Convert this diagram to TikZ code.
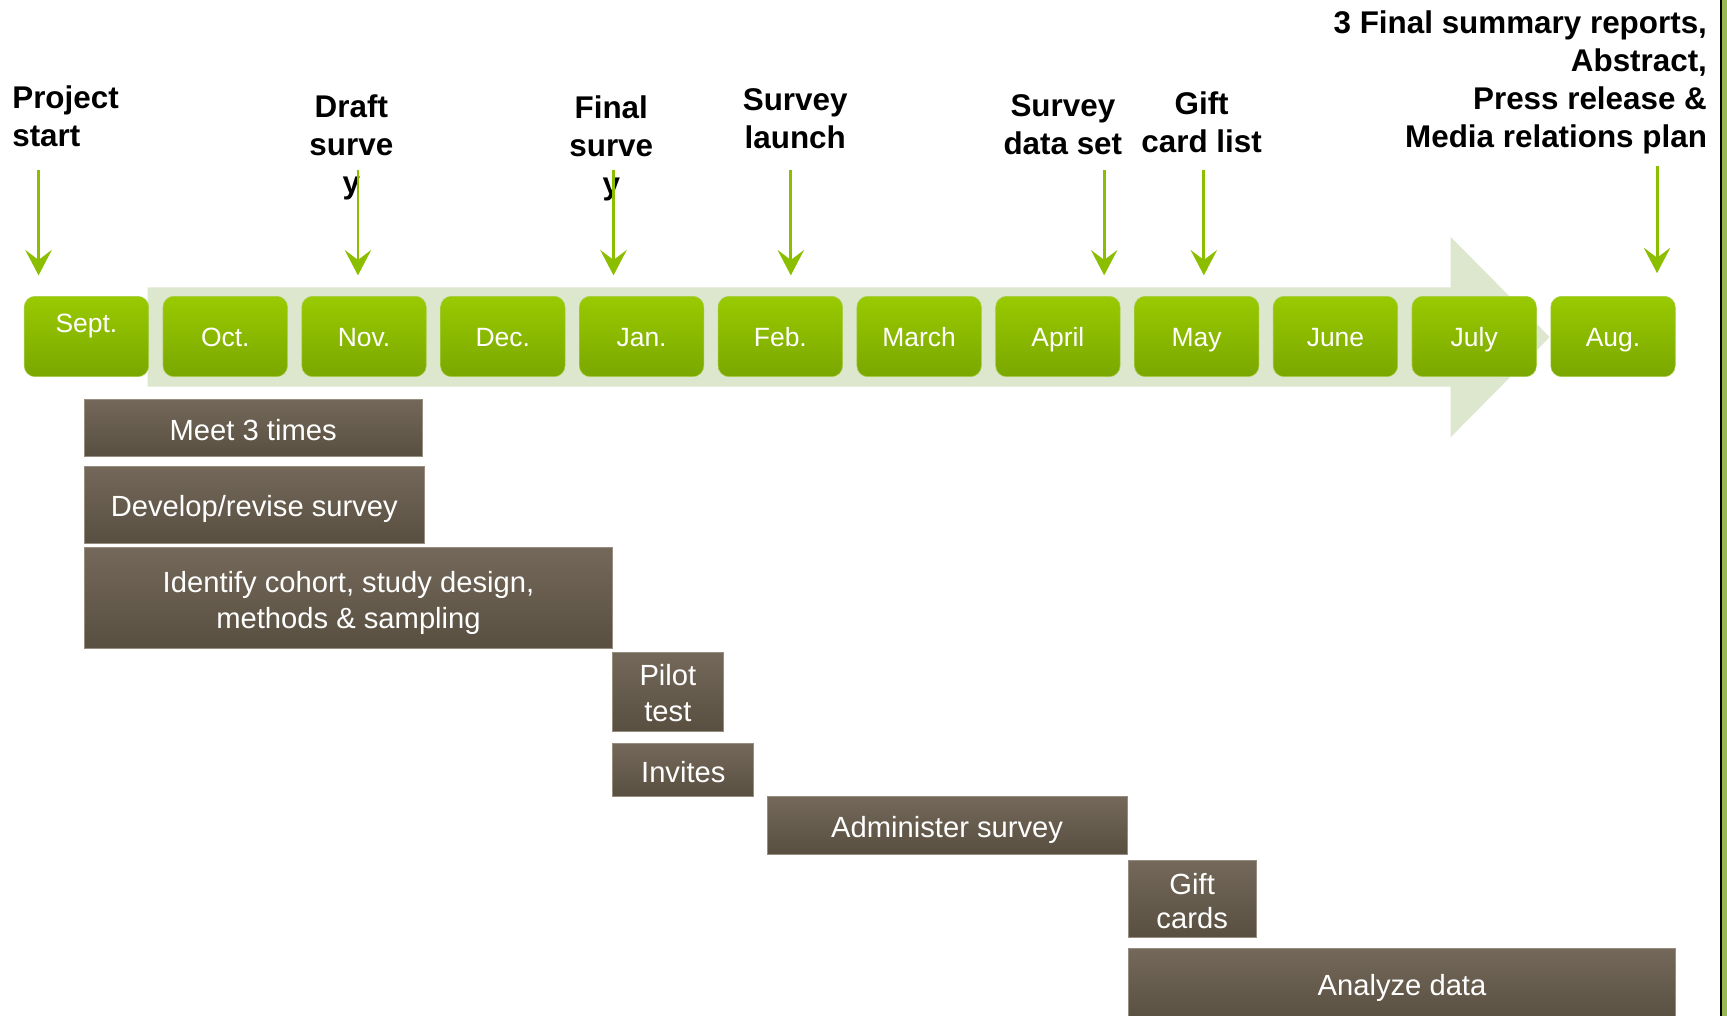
\documentclass[tikz,border=0pt]{standalone}
\usepackage{fontspec}
\setmainfont{Liberation Sans}
\usetikzlibrary{arrows.meta}
\definecolor{mtop}{RGB}{153,202,0}
\definecolor{mbot}{RGB}{122,167,0}
\definecolor{mline}{RGB}{165,205,70}
\definecolor{msgreen}{RGB}{140,190,0}
\definecolor{band}{RGB}{220,231,205}
\definecolor{btop}{RGB}{115,104,89}
\definecolor{bbot}{RGB}{89,79,65}
\definecolor{bline}{RGB}{150,141,128}
\definecolor{edgegreen}{RGB}{150,185,82}
\newcommand{\mslines}[2]{\begin{tabular}[t]{@{}#1@{}}#2\end{tabular}}
\newcommand{\lowerby}[2]{\raisebox{-#1}[\height][\depth]{#2}}
\tikzset{
  month/.style={rectangle, rounded corners=10pt, minimum width=113pt, minimum height=73pt,
    inner sep=0pt, top color=mtop, bottom color=mbot, draw=mline, line width=0.5pt,
    text=white, font=\fontsize{24}{29}\selectfont, text height=17.5pt, text depth=0pt},
  bar/.style={rectangle, inner sep=0pt, top color=btop, bottom color=bbot, draw=bline,
    line width=0.8pt, text=white, align=center, font=\fontsize{26.5}{32.5}\selectfont},
  mlabel/.style={inner sep=0pt, font=\fontsize{28.5}{34.5}\selectfont\bfseries},
  msarrow/.style={draw=msgreen, line width=2.6pt,
    -{Stealth[length=23pt, width=24pt, inset=9pt, fill=msgreen]}}
}
\begin{document}
\begin{tikzpicture}[x=1pt, y=-1pt]
\useasboundingbox (0,0) rectangle (1568,922);
\clip (0,0) rectangle (1568,922);
\fill[white] (0,0) rectangle (1568,922);

% background arrow band
\fill[band] (134,261) -- (1317,261) -- (1317,215) -- (1407,306) -- (1317,397)
  -- (1317,351) -- (134,351) -- cycle;

% months
\node[month] (sep) at (78.5,305.5) {\raisebox{12.5pt}{Sept.}};
\node[month] (oct) at (204.5,305.5) {Oct.};
\node[month] (nov) at (330.5,305.5) {Nov.};
\node[month] (dec) at (456.5,305.5) {Dec.};
\node[month] (jan) at (582.5,305.5) {Jan.};
\node[month] (feb) at (708.5,305.5) {Feb.};
\node[month] (mar) at (834.5,305.5) {March};
\node[month] (apr) at (960.5,305.5) {April};
\node[month] (may) at (1086.5,305.5) {May};
\node[month] (jun) at (1212.5,305.5) {June};
\node[month] (jul) at (1338.5,305.5) {July};
\node[month] (aug) at (1464.5,305.5) {Aug.};

% milestone labels
\node[mlabel, anchor=base west] (lps) at (11,98.5) {\mslines{l}{Project\\start}};
\node[mlabel, anchor=base] (ldr) at (319,107) {\mslines{c}{Draft\\surve\\y}};
\node[mlabel, anchor=base] (lfi) at (555,107.5) {\mslines{c}{Final\\surve\\y}};
\node[mlabel, anchor=base] (lsl) at (722,100.5) {\mslines{c}{Survey\\launch}};
\node[mlabel, anchor=base] (lsd) at (965,105.5) {\mslines{c}{Survey\\data set}};
\node[mlabel, anchor=base] (lgc) at (1091,104) {\mslines{c}{Gift\\card list}};
\node[mlabel, anchor=base east] (lfr) at (1550,30.5) {\mslines{r}{3 Final summary reports,\\Abstract,\\Press release \&\\Media relations plan}};

% milestone arrows
\coordinate (psTop) at (35,154);     \coordinate (psTip) at (35,250);
\coordinate (drTop) at (325,154);    \coordinate (drTip) at (325,250);
\coordinate (fiTop) at (557,154);    \coordinate (fiTip) at (557,250);
\coordinate (slTop) at (718,154);    \coordinate (slTip) at (718,250);
\coordinate (sdTop) at (1002.5,154); \coordinate (sdTip) at (1002.5,250);
\coordinate (gcTop) at (1093,154);   \coordinate (gcTip) at (1093,250);
\coordinate (frTop) at (1504.5,151); \coordinate (frTip) at (1504.5,248);
\draw[msarrow] (psTop) -- (psTip);
\draw[msarrow] (drTop) -- (drTip);
\draw[msarrow] (fiTop) -- (fiTip);
\draw[msarrow] (slTop) -- (slTip);
\draw[msarrow] (sdTop) -- (sdTip);
\draw[msarrow] (gcTop) -- (gcTip);
\draw[msarrow] (frTop) -- (frTip);

% task bars
\node[bar, anchor=north west, minimum width=307pt, minimum height=52pt] (meet) at (76,362) {\lowerby{2pt}{Meet 3 times}};
\node[bar, anchor=north west, minimum width=309pt, minimum height=70pt] (dev) at (76,423) {\lowerby{4pt}{Develop/revise survey}};
\node[bar, anchor=north west, minimum width=480pt, minimum height=91pt] (ident) at (76,497) {\lowerby{5pt}{\mslines{c}{Identify cohort, study design,\\methods \& sampling}}};
\node[bar, anchor=north west, minimum width=100pt, minimum height=72pt] (pilot) at (556,592) {\lowerby{4pt}{\mslines{c}{Pilot\\test}}};
\node[bar, anchor=north west, minimum width=128pt, minimum height=48pt] (inv) at (556,675) {\lowerby{1.5pt}{Invites}};
\node[bar, anchor=north west, minimum width=327pt, minimum height=52pt] (adm) at (696,723) {\lowerby{4pt}{Administer survey}};
\node[bar, anchor=north west, minimum width=116pt, minimum height=70pt] (gift) at (1024,781) {\lowerby{5pt}{\mslines{c}{Gift\\[-1.5pt]cards}}};
\node[bar, anchor=north west, minimum width=497pt, minimum height=66pt] (anal) at (1024,861) {\lowerby{3pt}{Analyze data}};

% right edge
\fill[black] (1561.8,0) rectangle (1563.6,922);
\fill[edgegreen] (1563.6,0) rectangle (1568,922);
\end{tikzpicture}
\end{document}
